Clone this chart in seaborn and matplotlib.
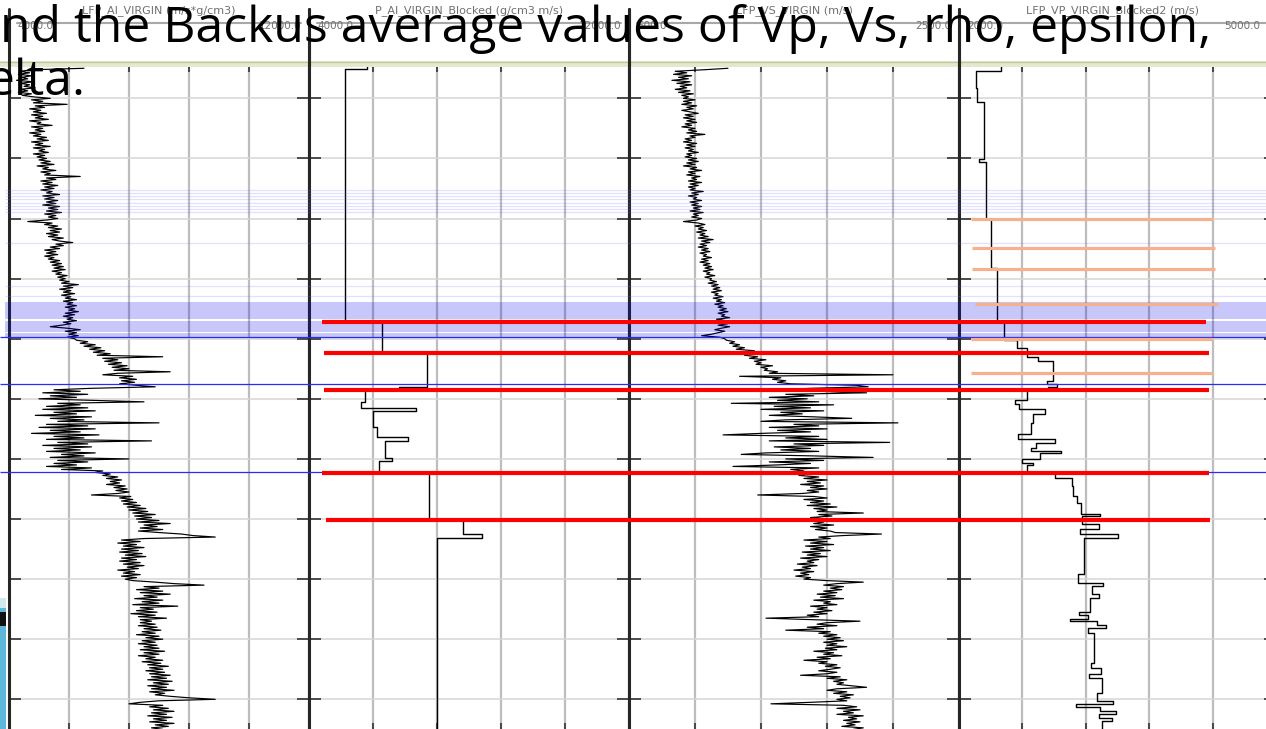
import numpy as np
import pandas as pd
import matplotlib
matplotlib.use("Agg")
import matplotlib.pyplot as plt
from matplotlib.patches import Rectangle
from matplotlib.lines import Line2D
import seaborn as sns

# ---------------- data ----------------
title_line1 = "nd the Backus average values of Vp, Vs, rho, epsilon,"
title_line2 = "elta."

track_names = ["LFP_AI_VIRGIN (m/s*g/cm3)", "P_AI_VIRGIN_Blocked (g/cm3 m/s)",
               "LFP_VS_VIRGIN (m/s)", "LFP_VP_VIRGIN_Blocked2 (m/s)"]
track_min = [4000.0, 4000.0, 500.0, 2000.0]
track_max = [12000.0, 12000.0, 2500.0, 5000.0]

# depth index of the raw logs (m), regular 1.25 m sampling
depth_start = 1025.0
depth_step = 1.25

ai_virgin = [
    6000, 4600, 4300, 4550, 4250, 4600, 4350, 4500, 4200, 4650, 4300, 4550, 4400, 4700, 4300, 4500, 4250, 4600, 4350, 4650, 5100,
    4600, 4900, 4650, 5550, 4700, 4950, 4550, 4850, 4650, 5000,
    4600, 4900, 4700, 5050, 4550, 4850, 4750, 5150, 4600, 4900,
    4700, 4950, 4550, 4850, 4650, 5000, 4750, 5050, 4600, 4900,
    4700, 5100, 4650, 4950, 4800, 5050, 4650, 4950, 4750, 5000,
    4800, 5100, 4850, 5200, 4750, 5050, 4900, 5250, 4850, 5100,
    4950, 5900, 5000, 5250, 4850, 5150, 4900, 5300, 4950, 5200,
    4850, 5150, 5000, 5350, 4900, 5200, 4950, 5300, 5000, 5250,
    4900, 5350, 5050, 5300, 5000, 5400, 4950, 5250, 5050, 5300,
    5000, 4500, 5150, 4950, 5300, 5050, 5400, 5100, 5350, 5000,
    5300, 5050, 5450, 5150, 5350, 5700, 5250, 5450, 5100, 5350,
    4950, 5250, 5000, 5300, 4950, 5200, 5050, 5350, 5100, 5400,
    5150, 5450, 5200, 5500, 5150, 5400, 5250, 5550, 5300, 5500,
    5350, 5600, 5400, 5850, 5450, 5700, 5350, 5650, 5450, 5750,
    5400, 5650, 5500, 5800, 5450, 5700, 5550, 5800, 5500, 5750,
    5600, 5850, 5500, 5750, 5450, 5700, 5550, 5800, 5450, 5650,
    5400, 5100, 5550, 5900, 5500, 5800, 5600, 5850, 5550, 5750,
    5800, 6100, 5900, 6300, 6000, 6450, 6150, 6550, 6250, 6700,
    6350, 8100, 6500, 6900, 6550, 7000, 6650, 7150, 6750, 7200,
    6800, 8300, 6900, 6500, 7300, 6950, 7400, 7000, 7350, 6950, 7400,
    7900, 6200, 5200, 5900, 4900, 6100, 5100, 5800, 4800, 6200,
    7600, 5300, 5900, 5000, 6100, 4900, 6300, 5200, 5800, 4700,
    6200, 5100, 6000, 5300, 8000, 5000, 6100, 4800, 6300, 5100,
    5900, 4600, 6400, 5200, 6000, 5000, 7800, 5300, 6100, 4900,
    6200, 5200, 5900, 5000, 6300, 5400, 6000, 5100, 7200, 5300,
    6100, 5200, 5800, 5000, 6200, 5400, 6500,
    6300, 6700, 6500, 6900, 6600, 7000, 6700, 6950, 6600, 7100,
    6800, 7150, 6850, 7200, 6900, 6200, 7250, 6950, 7300, 7000,
    7400, 7050, 7500, 7150, 7650, 7200, 7700, 7300, 7900, 7350,
    7800, 7400, 8000, 7450, 8300, 7600, 7950, 7500, 8100, 7450,
    8000, 8600, 8900, 9500, 7600, 7000, 7500, 6900, 7400, 7050,
    7600, 7000, 7450, 6950, 7550, 7100, 7650, 7000, 7400, 6950,
    7500, 7050, 7600, 7150, 7450, 6900, 7350, 7050, 7500, 7000,
    7400, 7100,
    7300, 7900, 8400, 9200, 7600, 8000, 7400, 8100, 7500, 8300,
    7600, 7950, 7350, 8100, 7550, 8000, 7300, 8500, 7500, 7850,
    7400, 7950, 7250, 7900, 7450, 8200, 7500, 7800,
    7500, 7900, 7450, 7950, 7600, 8050, 7550, 7900, 7400, 8000,
    7650, 8100, 7550, 7900, 7450, 7950, 7600, 8000, 7500, 8150,
    7600, 8000, 7450, 7900, 7650, 8100, 7550, 8050, 7700, 8250,
    7750, 8100,
    7650, 8150, 7750, 8300, 7800, 8200, 7700, 8350, 7850, 8250,
    7700, 8200, 7800, 8400, 7750, 8150, 7900, 8300, 8800, 9500,
    8000, 7500, 7200, 8100, 7750, 8250, 7850, 8400, 7800, 8200,
    7700, 8350, 7850, 8200, 7750, 8400, 7900, 8250, 7800, 8100,
]

vs_virgin = [
    1100, 950, 780, 850, 770, 880, 800, 860, 760, 870, 790, 880, 810, 850, 780, 870, 800, 890, 820, 860, 830,
    900, 830, 880, 820, 910, 850, 890, 820, 870, 920,
    840, 890, 830, 900, 850, 910, 840, 880, 820, 900,
    860, 910, 850, 960, 870, 900, 840, 880, 830, 910,
    850, 900, 840, 890, 860, 920, 850, 880, 840, 910,
    860, 920, 850, 900, 830, 910, 870, 940, 860, 900,
    850, 930, 880, 910, 860, 940, 870, 920, 860, 900,
    870, 950, 880, 920, 860, 910, 890, 940, 870, 920,
    880, 940, 890, 930, 870, 950, 890, 920, 880, 940,
    910, 830, 920, 960, 900, 950, 920, 970, 910, 960,
    930, 980, 920, 1010, 940, 990, 930, 970, 920, 980,
    940, 990, 930, 970, 950, 1000, 940, 980, 930, 990,
    950, 1000, 960, 1010, 950, 990, 970, 1020, 960, 1000,
    990, 1030, 980, 1040, 1000, 1050, 1010, 1060, 1000, 1040,
    1020, 1070, 1010, 1060, 1030, 1080, 1020, 1070, 1040, 1090,
    1050, 1100, 1040, 1080, 1060, 1110, 1030, 1090, 1060, 1100,
    1040, 1110, 1060, 1020, 1080, 1040, 1000, 940, 1050, 1080,
    1090, 1140, 1110, 1170, 1130, 1200, 1150, 1260, 1190, 1230,
    1200, 1280, 1230, 1330, 1260, 1300, 1270, 1370, 1300, 1340,
    1320, 1400, 1350, 2100, 1170, 1420, 1370, 1450, 1400, 1480, 1880,
    1950, 1600, 1400, 1650, 1940, 1450, 1620, 1350, 1580, 1400,
    1650, 1120, 1740, 1380, 1600, 1300, 1680, 1420, 1550, 1350,
    1620, 1850, 1450, 1300, 2130, 1500, 1650, 1350, 1700, 1400,
    1600, 1300, 1070, 1650, 1450, 1700, 1350, 2080, 1500, 1680,
    1380, 1600, 1420, 1650, 1330, 1180, 1620, 1980, 1450, 1680,
    1350, 1600, 1400, 1130, 1650, 1480, 1560,
    1500, 1580, 1530, 1650, 1560, 1700, 1580, 1660, 1540, 1680,
    1600, 1700, 1580, 1650, 1550, 1280, 1620, 1700, 1560, 1680,
    1600, 1720, 1580, 1760, 1620, 1700, 1640, 1920, 1650, 1730,
    1600, 1700, 1580, 1680, 1620, 1740, 1600, 1700, 1630, 1720,
    1750, 2030, 1800, 1650, 1720, 1560, 1700, 1600, 1740, 1570,
    1680, 1600, 1720, 1550, 1660, 1580, 1700, 1540, 1650, 1580,
    1620, 1520, 1640, 1550, 1600, 1500, 1620, 1540, 1590, 1510,
    1600, 1560,
    1700, 1920, 1760, 1680, 1800, 1720, 1790, 1680, 1760, 1640,
    1750, 1660, 1800, 1620, 1720, 1680, 1760, 1600, 1700, 1640,
    1730, 1620, 1700, 1580, 1650, 1330, 1620, 1900,
    1700, 1640, 1760, 1580, 1680, 1450, 1720, 1650, 1760, 1680,
    1780, 1700, 1800, 1680, 1760, 1700, 1820, 1690, 1760, 1620,
    1740, 1680, 1790, 1640, 1720, 1560, 1700, 1650, 1760, 1690,
    1780, 1720,
    1650, 1760, 1700, 1540, 1780, 1700, 1820, 1740, 1800, 1760,
    1850, 1940, 1760, 1700, 1820, 1740, 1860, 1780, 1840, 1760,
    1820, 1600, 1360, 1800, 1880, 1760, 1900, 1800, 1860, 1760,
    1920, 1830, 1880, 1800, 1900, 1820, 1870, 1790, 1920, 1860,
]

# blocked logs: top depth of each block (m) and its value
ai_block_top = [1023, 1026, 1236, 1262, 1290, 1292, 1302.5, 1307.5, 1310, 1323.3,
                1331.7, 1335, 1349.2, 1351.7, 1360.8, 1362, 1401, 1412.5, 1415.8]
ai_block_val = [5450, 4900, 5825, 6950, 6250, 5400, 5300, 6675, 5600, 5700,
                6475, 5900, 6075, 5750, 6325, 7000, 7850, 8325, 7200]

vp_block_top = [1023, 1027.5, 1041.7, 1053.3, 1100.8, 1103.3, 1150, 1190.8, 1236, 1250.8,
                1257.5, 1265, 1268.3, 1285, 1287.5, 1290, 1292.7, 1300.8, 1304.2, 1308.3,
                1312.5, 1320, 1329.2, 1333.3, 1336.7, 1340.8, 1343.3, 1345, 1350, 1353.3,
                1355, 1362, 1365.8, 1372.5, 1380.8, 1386.7, 1395.8, 1397.5, 1404.2, 1408.3,
                1412.5, 1415.8, 1445.8, 1453.3, 1455.8, 1462.5, 1465.8, 1477.5, 1480, 1483.3,
                1485, 1488.3, 1490.8, 1495, 1520, 1524.2, 1529.2, 1532.5, 1545, 1551.7,
                1554.2, 1556.7, 1560, 1562.5, 1565.8, 1568.3]
vp_block_val = [2400, 2162, 2171, 2238, 2190, 2257, 2305, 2362, 2429, 2552,
                2648, 2743, 2886, 2829, 2924, 2838, 2648, 2533, 2571, 2810,
                2705, 2686, 2562, 2905, 2724, 2686, 2962, 2771, 2600, 2705,
                2648, 2905, 3067, 3076, 3114, 3152, 3333, 3162, 3324, 3143,
                3505, 3181, 3124, 3362, 3257, 3324, 3238, 3133, 3219, 3048,
                3305, 3390, 3219, 3276, 3248, 3343, 3229, 3352, 3305, 3457,
                3105, 3333, 3486, 3324, 3448, 3352]

# markers (depth, m)
red_depths = [1236.1, 1261.9, 1292.7, 1361.8, 1400.9]
orange_depths = [1150.4, 1174.5, 1192.0, 1221.1, 1250.2, 1278.5]
band_top = [1219.5, 1234.9, 1244.9]
band_bot = [1234.0, 1244.0, 1248.6]
light_depths = [1126.3, 1128.8, 1131.3, 1133.8, 1137.1, 1139.6, 1142.1, 1144.6,
                1170.4, 1206.2, 1214.5]
blue_depths = [1248.6, 1287.8, 1361.0]

# ---------------- layout / style ----------------
W, H, DPI = 1266, 729, 100
sns.set_theme(style="white")
plt.rcParams['font.family'] = ['DejaVu Sans']

fig = plt.figure(figsize=(W / DPI, H / DPI), dpi=DPI)
fig.patch.set_facecolor('white')


def fx(x):
    return x / W


def fy(y):
    return 1 - y / H


TOP_PX, BOT_PX = 66, 729
Y_TOP, Y_BOT = 1023.1, 1574.7
track_px = [(9, 309), (309, 629), (629, 959), (959, 1276)]
curve_lw = [0.85, 1.0, 0.85, 1.0]

depth = depth_start + depth_step * np.arange(len(ai_virgin))


def steps(tops, vals, bottom):
    tops = np.asarray(tops, float)
    bots = np.append(tops[1:], bottom)
    return np.repeat(np.asarray(vals, float), 2), np.column_stack([tops, bots]).ravel()


curves = [
    (np.asarray(ai_virgin, float), depth),
    steps(ai_block_top, ai_block_val, Y_BOT + 3),
    (np.asarray(vs_virgin, float), depth),
    steps(vp_block_top, vp_block_val, Y_BOT + 3),
]

for i, (x0, x1) in enumerate(track_px):
    ax = fig.add_axes([fx(x0), fy(BOT_PX), fx(x1) - fx(x0), fy(TOP_PX) - fy(BOT_PX)])
    xs, ys = curves[i]
    df = pd.DataFrame({'value': xs, 'depth': ys})
    sns.lineplot(data=df, x='value', y='depth', sort=False, estimator=None,
                 color='black', lw=curve_lw[i], ax=ax)
    ax.set_xlim(track_min[i], track_max[i])
    ax.set_ylim(Y_BOT, Y_TOP)
    ax.set_xticks(np.linspace(track_min[i], track_max[i], 6))
    ax.set_yticks(np.arange(1050, 1551, 50))
    ax.set_axisbelow(True)
    ax.grid(True, axis='x', color='#bdbdbd', lw=1.6)
    ax.grid(True, axis='y', color='#d6d6d6', lw=1.1)
    ax.tick_params(axis='y', direction='in', length=8.5, width=1.2, color='#333333',
                   left=True, right=True, labelleft=False, labelright=False)
    ax.tick_params(axis='x', direction='in', length=4, width=1.2, color='#333333',
                   top=True, bottom=True, labelbottom=False, labeltop=False)
    ax.set_xlabel('')
    ax.set_ylabel('')
    for s in ('top', 'bottom'):
        ax.spines[s].set_visible(False)
    for s in ('left', 'right'):
        ax.spines[s].set_color('#262626')
        ax.spines[s].set_linewidth(2.2)

# overlay for markers spanning the tracks
ov = fig.add_axes([0, fy(BOT_PX), 1, fy(TOP_PX) - fy(BOT_PX)], zorder=10)
ov.set_xlim(0, W)
ov.set_ylim(Y_BOT, Y_TOP)
ov.axis('off')
for t, b in zip(band_top, band_bot):
    ov.fill_between([5, W], t, b, color=(0.0, 0.0, 0.9), alpha=0.22, lw=0)
ov.hlines(light_depths, 5, W, color=(0.45, 0.45, 1.0), alpha=0.22, lw=0.9)
ov.hlines(blue_depths, 0, W, color='#2a2aff', lw=0.9)
orange_x = [(971, 1213), (972, 1215), (972, 1215), (975, 1218), (971, 1213), (971, 1213)]
for d, (a, b) in zip(orange_depths, orange_x):
    ov.hlines(d, a, b, color='#f6b08e', lw=2.3)
red_x = [(322, 1206), (324, 1209), (324, 1209), (322, 1209), (326, 1210)]
for d, (a, b) in zip(red_depths, red_x):
    ov.hlines(d, a, b, color='#ff0000', lw=3.0)

# header
fig.add_artist(Rectangle((0, fy(66.5)), 1, 5.0 / H, transform=fig.transFigure,
                         facecolor='#e4e8cf', edgecolor='none', zorder=12))
fig.add_artist(Line2D([0, 1], [fy(62), fy(62)], transform=fig.transFigure,
                      color='#c3c99f', lw=0.9, zorder=12))
for x0, x1 in track_px:
    for xb in (x0, x1):
        fig.add_artist(Line2D([fx(xb), fx(xb)], [fy(9), fy(66)], transform=fig.transFigure,
                              color='#262626', lw=2.2, zorder=12))
    fig.add_artist(Line2D([fx(x0 + 8), fx(x1 - 8)], [fy(22.5), fy(22.5)],
                          transform=fig.transFigure, color='#a8a8a8', lw=1.5, zorder=12))
for i, (x0, x1) in enumerate(track_px):
    fig.text(fx((x0 + min(x1, W)) / 2), fy(11), track_names[i], fontsize=8, color='#707070',
             ha='center', va='center', zorder=13)
    fig.text(fx(x0 + 8), fy(26), f"{track_min[i]:.1f}", fontsize=7.5, color='#707070',
             ha='left', va='center', zorder=13)
    fig.text(fx(min(x1, W + 2) - 8), fy(26), f"{track_max[i]:.1f}", fontsize=7.5,
             color='#707070', ha='right', va='center', zorder=13)

# bottom-left slide decoration
fig.add_artist(Rectangle((0, 0), fx(6), (729 - 598) / H, transform=fig.transFigure,
                         facecolor='#5db7db', edgecolor='none', zorder=12))
fig.add_artist(Rectangle((0, fy(608)), fx(6), 10 / H, transform=fig.transFigure,
                         facecolor='#cfe8f2', edgecolor='none', zorder=12))
fig.add_artist(Rectangle((0, fy(626)), fx(6), 14 / H, transform=fig.transFigure,
                         facecolor='#111111', edgecolor='none', zorder=12))

# slide title text overlapping the header
renderer = fig.canvas.get_renderer()
probe = fig.text(0, 0, title_line1, fontsize=34, family='Open Sans')
bw = probe.get_window_extent(renderer).width
probe.remove()
fs = 34 * 1212 / bw
fig.text(fx(0), fy(42), title_line1, fontsize=fs, family='Open Sans', color='black',
         ha='left', va='baseline', zorder=20)
fig.text(fx(-14), fy(95), title_line2, fontsize=fs, family='Open Sans', color='black',
         ha='left', va='baseline', zorder=20)

fig.savefig('out.png', dpi=DPI, facecolor='white')
